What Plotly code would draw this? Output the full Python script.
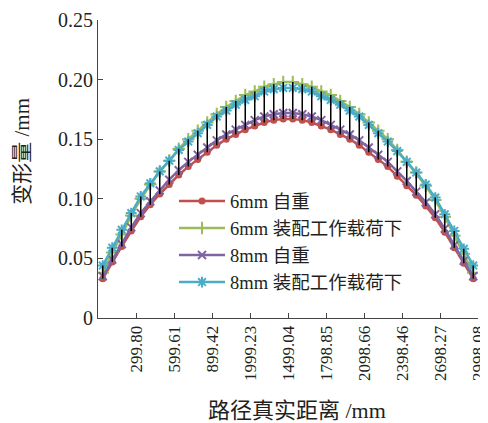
import plotly.graph_objects as go

# category index along the path (40 measurement points)
points = list(range(1, 41))

tick_labels = ["299.80", "599.61", "899.42", "1999.23", "1499.04",
               "1798.85", "2098.66", "2398.46", "2698.27", "2998.08"]
tick_pos = [4.5, 8.5, 12.5, 16.5, 20.5, 24.5, 28.5, 32.5, 36.5, 40.5]

s6_self = [0.033, 0.047, 0.060, 0.073, 0.085, 0.095, 0.104, 0.112, 0.120, 0.127,
           0.133, 0.139, 0.145, 0.150, 0.154, 0.158, 0.161, 0.164, 0.166, 0.167,
           0.167, 0.166, 0.164, 0.161, 0.158, 0.154, 0.150, 0.145, 0.139, 0.133,
           0.127, 0.119, 0.111, 0.103, 0.094, 0.084, 0.072, 0.059, 0.046, 0.033]
s6_load = [0.038, 0.055, 0.070, 0.086, 0.100, 0.112, 0.123, 0.132, 0.142, 0.150,
           0.157, 0.164, 0.171, 0.177, 0.182, 0.187, 0.190, 0.194, 0.196, 0.198,
           0.198, 0.196, 0.194, 0.190, 0.187, 0.182, 0.177, 0.171, 0.164, 0.157,
           0.150, 0.141, 0.131, 0.122, 0.111, 0.099, 0.085, 0.069, 0.054, 0.038]
s8_self = [0.035, 0.049, 0.062, 0.076, 0.088, 0.098, 0.107, 0.116, 0.124, 0.131,
           0.137, 0.143, 0.149, 0.154, 0.158, 0.162, 0.166, 0.169, 0.171, 0.172,
           0.172, 0.171, 0.169, 0.166, 0.162, 0.158, 0.154, 0.149, 0.143, 0.137,
           0.131, 0.123, 0.115, 0.106, 0.097, 0.087, 0.075, 0.061, 0.048, 0.035]
s8_load = [0.044, 0.059, 0.074, 0.088, 0.102, 0.113, 0.123, 0.132, 0.141, 0.148,
           0.155, 0.162, 0.169, 0.174, 0.179, 0.183, 0.186, 0.190, 0.192, 0.193,
           0.193, 0.192, 0.190, 0.186, 0.183, 0.179, 0.174, 0.169, 0.162, 0.155,
           0.148, 0.140, 0.131, 0.122, 0.112, 0.101, 0.087, 0.073, 0.058, 0.044]

series = [
    ("6mm 自重", s6_self, "#C0504D", "circle", 7, 0),
    ("6mm 装配工作载荷下", s6_load, "#9BBB59", "cross-thin-open", 9, 2),
    ("8mm 自重", s8_self, "#8064A2", "x-thin-open", 8, 2),
    ("8mm 装配工作载荷下", s8_load, "#4BACC6", "asterisk-open", 9, 2),
]

FONT = "Liberation Serif, Times New Roman, Noto Sans CJK SC, serif"

# the page body has an 8px margin, so the figure is 8px smaller
W, H = 480, 415
L, T = 90, 12
PW, PH = 380, 298.5

fig = go.Figure()
for name, vals, color, sym, size, lw in series:
    fig.add_trace(go.Scatter(
        x=points, y=vals, name=name, mode="lines+markers",
        line=dict(color=color, width=2.5),
        marker=dict(symbol=sym, size=size, color=color,
                    line=dict(color=color, width=lw)),
    ))

# high-low lines
hx, hy = [], []
for i, p in enumerate(points):
    vals = [s6_self[i], s6_load[i], s8_self[i], s8_load[i]]
    hx += [p, p, None]
    hy += [min(vals), max(vals), None]
fig.add_trace(go.Scatter(x=hx, y=hy, mode="lines", showlegend=False,
                         line=dict(color="black", width=1.5), hoverinfo="skip"))

fig.update_layout(
    width=W, height=H,
    margin=dict(l=L, r=W - L - PW, t=T, b=H - T - PH),
    paper_bgcolor="white", plot_bgcolor="white",
    font=dict(family=FONT, size=18, color="#231F20"),
    showlegend=True,
    legend=dict(x=0.2, y=0.455, xanchor="left", yanchor="top",
                bgcolor="rgba(0,0,0,0)", font=dict(size=18.5, family=FONT),
                tracegroupgap=0, itemwidth=46),
    annotations=[
        dict(text="路径真实距离 /mm", xref="paper", yref="paper",
             x=(297 - 8 - L) / PW, y=-(411 - 8 - T - PH) / PH,
             xanchor="center", yanchor="middle", showarrow=False,
             font=dict(size=22, family=FONT)),
        dict(text="变形量 /mm", xref="paper", yref="paper",
             x=-(L - (22 - 8)) / PW, y=1 - (152 - 8 - T) / PH,
             xanchor="center", yanchor="middle", showarrow=False, textangle=-90,
             font=dict(size=21, family=FONT)),
    ],
)
fig.update_xaxes(
    range=[0.5, 40.5], tickmode="array", tickvals=tick_pos, ticktext=tick_labels,
    tickangle=-90, ticks="inside", ticklen=5, tickcolor="#444",
    showline=True, linecolor="#444", linewidth=1, showgrid=False, zeroline=False,
    tickfont=dict(size=17, family=FONT), automargin=False,
)
fig.update_yaxes(
    range=[0, 0.25], tickmode="array",
    tickvals=[0, 0.05, 0.10, 0.15, 0.20, 0.25],
    ticktext=["0", "0.05", "0.10", "0.15", "0.20", "0.25"],
    ticks="inside", ticklen=5, tickcolor="#444",
    showline=True, linecolor="#444", linewidth=1, showgrid=False, zeroline=False,
    tickfont=dict(size=20, family=FONT), automargin=False,
)
fig.write_html("out.html")
